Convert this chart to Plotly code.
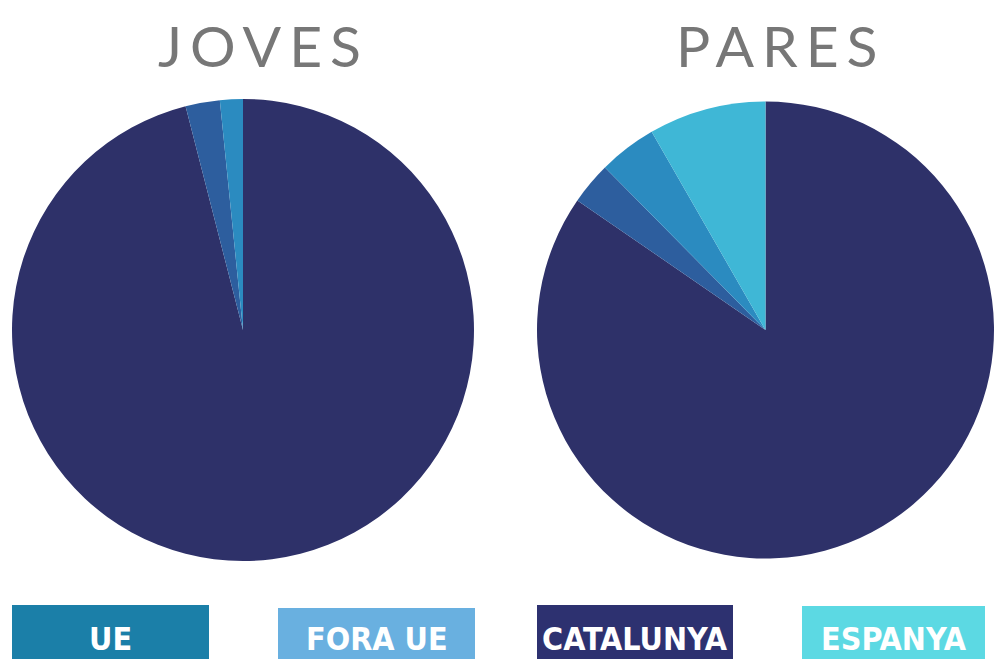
import plotly.graph_objects as go

# ---- data ----
categories = ["Catalunya", "Fora UE", "UE", "Espanya"]
joves_values = [96.0, 2.4, 1.6, 0.0]
pares_values = [84.6, 3.0, 4.1, 8.3]
slice_colors = ["#2e3169", "#2d5e9e", "#2b8bc0", "#3fb7d6"]
chart_titles = ["JOVES", "PARES"]
legend_labels = ["UE", "FORA UE", "CATALUNYA", "ESPANYA"]
legend_colors = ["#1b7fa8", "#69b0e0", "#2d3170", "#5cd9e3"]

W, H = 994, 659

fig = go.Figure()
fig.add_trace(go.Pie(
    labels=categories, values=joves_values, sort=False, direction="clockwise",
    rotation=0, marker=dict(colors=slice_colors, line=dict(width=0)),
    textinfo="none", hoverinfo="label+percent", showlegend=False,
    domain=dict(x=[12 / W, 474 / W], y=[1 - 562 / H, 1 - 98 / H]),
))
fig.add_trace(go.Pie(
    labels=categories, values=pares_values, sort=False, direction="clockwise",
    rotation=0, marker=dict(colors=slice_colors, line=dict(width=0)),
    textinfo="none", hoverinfo="label+percent", showlegend=False,
    domain=dict(x=[537 / W, 1.0], y=[1 - 562 / H, 1 - 98 / H]),
))

title_x = [263 / W, 781 / W]
for t, x in zip(chart_titles, title_x):
    fig.add_annotation(text=t, x=x, y=1 - 45 / H, xref="paper", yref="paper",
                       showarrow=False, xanchor="center", yanchor="middle",
                       font=dict(family="Lato, Open Sans, sans-serif", size=57,
                                 color="#777777"))

box_x = [(12, 209), (278, 475), (537, 733), (802, 985)]
box_top = [605, 608, 605, 606]
for lab, col, (x0, x1), top in zip(legend_labels, legend_colors, box_x, box_top):
    fig.add_shape(type="rect", xref="paper", yref="paper",
                  x0=x0 / W, x1=x1 / W, y0=-0.05, y1=1 - top / H,
                  fillcolor=col, line=dict(width=0), layer="below")
    fig.add_annotation(text="<b>" + lab + "</b>", x=(x0 + x1) / 2 / W, y=1 - 639 / H,
                       xref="paper", yref="paper", showarrow=False,
                       xanchor="center", yanchor="middle",
                       font=dict(family="Liberation Sans Narrow, DejaVu Sans Condensed, sans-serif",
                                 size=32, color="white"))

fig.update_layout(
    width=W, height=H, margin=dict(l=0, r=0, t=0, b=0),
    paper_bgcolor="white", plot_bgcolor="white",
)

post = """
document.body.style.margin = '0';
document.body.style.overflow = 'hidden';
document.querySelectorAll('.annotation-text').forEach(function(el){
  var t = el.textContent;
  if (t === 'JOVES' || t === 'PARES') { el.style.letterSpacing = '8px'; }
});
"""
fig.write_html("out.html", post_script=post, config={"displayModeBar": False})
